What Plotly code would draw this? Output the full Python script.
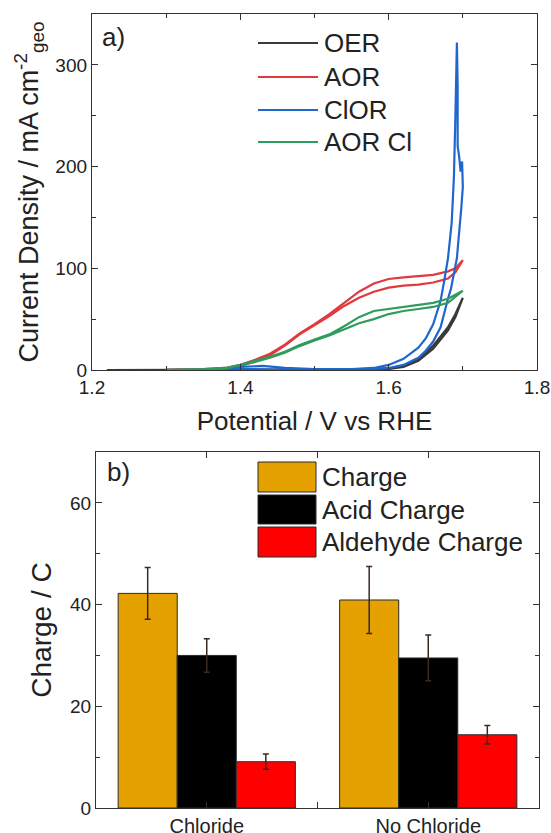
import plotly.graph_objects as go

# ---------------- Data: panel a) cyclic voltammograms ----------------
oer_v = [1.22, 1.30, 1.40, 1.50, 1.58, 1.60, 1.62, 1.64, 1.66, 1.68, 1.69, 1.70,
         1.69, 1.68, 1.66, 1.64, 1.62, 1.60, 1.55]
oer_j = [0.0, 0.0, 0.2, 0.3, 0.6, 1.0, 3.0, 9.0, 21.0, 39.0, 52.0, 71.0,
         55.0, 42.0, 24.0, 11.0, 4.0, 1.5, 0.5]

aor_v = [1.30, 1.35, 1.38, 1.40, 1.42, 1.44, 1.46, 1.48, 1.50, 1.52, 1.54, 1.56, 1.58,
         1.60, 1.62, 1.64, 1.66, 1.68, 1.69, 1.70,
         1.69, 1.68, 1.66, 1.64, 1.62, 1.60, 1.58, 1.56, 1.54, 1.52, 1.50, 1.48,
         1.46, 1.44, 1.42, 1.40, 1.38, 1.35, 1.30]
aor_j = [0.3, 0.8, 2.0, 5.0, 10.0, 16.0, 25.0, 36.0, 45.0, 55.0, 66.0, 77.0, 85.0,
         89.5, 91.0, 92.0, 93.5, 97.0, 100.0, 108.0,
         96.0, 90.0, 86.0, 84.0, 83.0, 81.0, 77.0, 71.0, 63.0, 53.0, 44.0, 35.0,
         24.0, 14.5, 8.5, 4.0, 1.5, 0.5, 0.2]

clor_v = [1.30, 1.36, 1.40, 1.43, 1.46, 1.50, 1.55, 1.58, 1.60, 1.62, 1.64, 1.65,
          1.66, 1.67, 1.675, 1.68, 1.685, 1.688, 1.690, 1.691, 1.692, 1.693, 1.693,
          1.695, 1.697, 1.699, 1.700,
          1.700, 1.698, 1.695, 1.692, 1.688, 1.684, 1.680, 1.675, 1.670, 1.660, 1.650,
          1.640, 1.620, 1.600, 1.580, 1.550, 1.500, 1.450, 1.400, 1.350, 1.300]
clor_j = [0.0, 0.5, 3.0, 4.0, 2.0, 1.0, 0.8, 2.0, 5.0, 11.0, 22.0, 31.0,
          45.0, 68.0, 88.0, 110.0, 145.0, 190.0, 250.0, 300.0, 322.0, 280.0, 220.0,
          210.0, 195.0, 205.0, 185.0,
          180.0, 160.0, 130.0, 110.0, 95.0, 80.0, 70.0, 55.0, 42.0, 28.0, 19.0,
          12.0, 5.0, 2.0, 1.0, 0.3, 0.2, 0.5, 1.0, 0.2, 0.0]

aorcl_v = [1.30, 1.35, 1.38, 1.40, 1.42, 1.44, 1.46, 1.48, 1.50, 1.52, 1.54, 1.56,
           1.58, 1.60, 1.62, 1.64, 1.66, 1.68, 1.70,
           1.68, 1.66, 1.64, 1.62, 1.60, 1.58, 1.56, 1.54, 1.52, 1.50, 1.48,
           1.46, 1.44, 1.42, 1.40, 1.38, 1.35, 1.30]
aorcl_j = [0.2, 0.8, 2.0, 5.0, 9.0, 13.0, 18.0, 24.5, 30.0, 35.0, 43.0, 52.0,
           58.0, 60.0, 62.0, 64.0, 66.0, 70.0, 78.0,
           66.0, 62.0, 60.0, 58.0, 55.0, 50.0, 46.0, 40.0, 34.0, 29.0, 23.5,
           17.0, 12.0, 8.0, 4.5, 1.5, 0.5, 0.1]

cv_names = ["OER", "AOR", "ClOR", "AOR Cl"]
cv_colors = ["#3a3a3a", "#e0393e", "#1f66cf", "#2f9c5c"]

# ---------------- Data: panel b) charges ----------------
categories = ["Chloride", "No Chloride"]
charge = [42.2, 40.9]
charge_err = [5.1, 6.6]
acid = [30.0, 29.5]
acid_err = [3.3, 4.5]
aldehyde = [9.1, 14.4]
aldehyde_err = [1.5, 1.8]
bar_names = ["Charge", "Acid Charge", "Aldehyde Charge"]
bar_colors = ["#e5a100", "#000000", "#ff0000"]

W, H = 551, 833
FONT = "Liberation Sans, Arial, sans-serif"
TXT = "#222222"
AX = "#333333"


def px(x):
    return x / W


def py(y):
    return 1 - y / H


fig = go.Figure()

cv_data = [(oer_v, oer_j), (aor_v, aor_j), (clor_v, clor_j), (aorcl_v, aorcl_j)]
for name, color, (v, j) in zip(cv_names, cv_colors, cv_data):
    fig.add_trace(go.Scatter(x=v, y=j, mode="lines", name=name,
                             line=dict(color=color, width=2.2),
                             xaxis="x", yaxis="y", showlegend=False))

xpos = list(range(len(categories)))
for name, color, vals, errs in zip(bar_names, bar_colors,
                                   [charge, acid, aldehyde],
                                   [charge_err, acid_err, aldehyde_err]):
    fig.add_trace(go.Bar(x=xpos, y=vals, name=name,
                         marker=dict(color=color, line=dict(color="#2a2a2a", width=1)),
                         error_y=dict(type="data", array=errs, visible=True,
                                      color="#3a2a22", thickness=1.5, width=3),
                         xaxis="x2", yaxis="y2", showlegend=False))

common = dict(showline=True, linecolor=AX, linewidth=1.3, mirror="allticks",
              ticks="inside", ticklen=6, tickwidth=1.2, tickcolor=AX,
              showgrid=False, zeroline=False,
              tickfont=dict(family=FONT, size=19, color=TXT))

fig.update_layout(
    width=W, height=H,
    margin=dict(l=0, r=0, t=0, b=0),
    paper_bgcolor="white", plot_bgcolor="white",
    barmode="group", bargap=0.2, bargroupgap=0,
    showlegend=False,
    xaxis=dict(domain=[px(92), px(537)], anchor="y", range=[1.2, 1.8],
               tickvals=[1.2, 1.4, 1.6, 1.8], ticktext=["1.2", "1.4", "1.6", "1.8"],
               minor=dict(dtick=0.1, ticks="inside", ticklen=4, tickcolor=AX),
               title=dict(text="Potential / V vs RHE", standoff=14,
                          font=dict(family=FONT, size=26, color=TXT)),
               automargin=False, **common),
    yaxis=dict(domain=[py(370), py(14)], anchor="x", range=[0, 350],
               tickvals=[0, 100, 200, 300],
               minor=dict(dtick=50, ticks="inside", ticklen=4, tickcolor=AX),
               title=dict(text="Current Density / mA cm<sup>-2</sup><sub>geo</sub>",
                          standoff=8, font=dict(family=FONT, size=27, color=TXT)),
               automargin=False, **common),
    xaxis2=dict(domain=[px(96), px(539)], anchor="y2", range=[-0.5, 1.5],
                tickvals=[0, 1], ticktext=categories,
                minor=dict(tickvals=[0.5], ticks="inside", ticklen=6, tickcolor=AX),
                automargin=False,
                **{**common, "tickfont": dict(family=FONT, size=20, color=TXT)}),
    yaxis2=dict(domain=[py(808), py(452)], anchor="x2", range=[0, 70],
                tickvals=[0, 20, 40, 60],
                minor=dict(dtick=10, ticks="inside", ticklen=4, tickcolor=AX),
                title=dict(text="Charge / C", standoff=10,
                           font=dict(family=FONT, size=28, color=TXT)),
                automargin=False, **common),
)

# Panel labels
fig.add_annotation(x=px(100), y=py(37), xref="paper", yref="paper", text="a)",
                   showarrow=False, xanchor="left", yanchor="middle",
                   font=dict(family=FONT, size=26, color=TXT))
fig.add_annotation(x=px(105), y=py(472), xref="paper", yref="paper", text="b)",
                   showarrow=False, xanchor="left", yanchor="middle",
                   font=dict(family=FONT, size=26, color=TXT))

# Custom legend for panel a)
leg_a_y = [43, 77, 110, 142]
for name, color, yy in zip(cv_names, cv_colors, leg_a_y):
    fig.add_shape(type="line", xref="paper", yref="paper",
                  x0=px(258), x1=px(318), y0=py(yy), y1=py(yy),
                  line=dict(color=color, width=2))
    fig.add_annotation(x=px(322), y=py(yy), xref="paper", yref="paper", text=name,
                       showarrow=False, xanchor="left", yanchor="middle",
                       font=dict(family=FONT, size=26, color=TXT))

# Custom legend for panel b)
leg_b = [(462, 492), (495, 524), (527, 557)]
for name, color, (y0, y1) in zip(bar_names, bar_colors, leg_b):
    fig.add_shape(type="rect", xref="paper", yref="paper",
                  x0=px(258), x1=px(316), y0=py(y1), y1=py(y0),
                  fillcolor=color, line=dict(color="#2a2a2a", width=1))
    fig.add_annotation(x=px(320), y=py((y0 + y1) / 2), xref="paper", yref="paper",
                       text=name, showarrow=False, xanchor="left", yanchor="middle",
                       font=dict(family=FONT, size=26, color=TXT))

fig.write_html("out.html")
